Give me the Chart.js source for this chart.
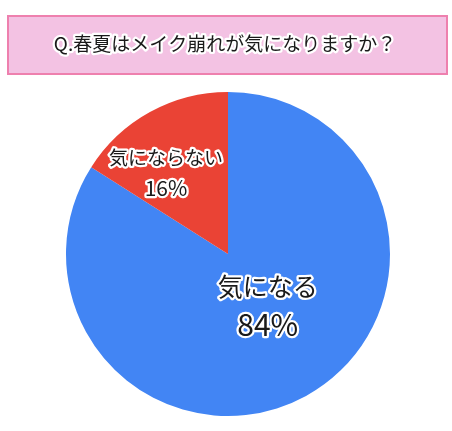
<!DOCTYPE html>
<html>
<head>
<meta charset="utf-8">
<script src="https://cdn.jsdelivr.net/npm/chart.js@4/dist/chart.umd.min.js"></script>
<style>
  html, body { margin: 0; padding: 0; background: #fff; }
  #wrap { width: 452px; height: 431px; position: relative; }
</style>
</head>
<body>
<div id="wrap"><canvas id="c-chart-pie"></canvas></div>
<script>
var title = 'Q.春夏はメイク崩れが気になりますか？'
var labels = ['気になる', '気にならない']
var values = [84, 16]
var colors = ['#4285f4', '#ea4335']

var FONT = '"Noto Sans CJK JP", "Noto Sans", sans-serif'

// label block centre relative to the pie centre, in radii; font sizes; line gap
var labelOffset = [[0.245, 0.32], [-0.383, -0.5]]
var labelSize = [[25, 30], [19, 21]]
var labelGap = [38, 30]

function outlinedText(ctx, text, x, y, size) {
  ctx.font = '400 ' + size + 'px ' + FONT
  ctx.textAlign = 'center'
  ctx.textBaseline = 'middle'
  ctx.lineJoin = 'round'
  ctx.lineWidth = 4.5
  ctx.strokeStyle = '#fff'
  ctx.strokeText(text, x, y)
  ctx.fillStyle = '#1a1a1a'
  ctx.fillText(text, x, y)
}

var titleBox = {
  id: 'titleBox',
  beforeDraw: function(chart) {
    var ctx = chart.ctx
    ctx.save()
    ctx.fillStyle = '#f3c2e3'
    ctx.fillRect(8, 16, 439, 58)
    ctx.strokeStyle = '#ee80ae'
    ctx.lineWidth = 2
    ctx.strokeRect(8, 16, 439, 58)
    outlinedText(ctx, title, 225, 44, 19)
    ctx.restore()
  }
}

var sliceLabels = {
  id: 'sliceLabels',
  afterDatasetsDraw: function(chart) {
    var ctx = chart.ctx
    var meta = chart.getDatasetMeta(0)
    ctx.save()
    meta.data.forEach(function(arc, i) {
      var x = arc.x + labelOffset[i][0] * arc.outerRadius
      var y = arc.y + labelOffset[i][1] * arc.outerRadius
      var s = labelSize[i]
      outlinedText(ctx, labels[i], x, y - labelGap[i] / 2, s[0])
      outlinedText(ctx, values[i] + '%', x, y + labelGap[i] / 2, s[1])
    })
    ctx.restore()
  }
}

new Chart(document.getElementById('c-chart-pie'), {
  type: 'pie',
  data: {
    labels: labels,
    datasets: [{
      data: values,
      backgroundColor: colors,
      borderWidth: 0
    }]
  },
  options: {
    responsive: true,
    maintainAspectRatio: false,
    animation: false,
    layout: { padding: { top: 92, bottom: 15, left: 66, right: 62 } },
    plugins: {
      legend: { display: false },
      tooltip: { enabled: false }
    }
  },
  plugins: [titleBox, sliceLabels]
})
</script>
</body>
</html>
